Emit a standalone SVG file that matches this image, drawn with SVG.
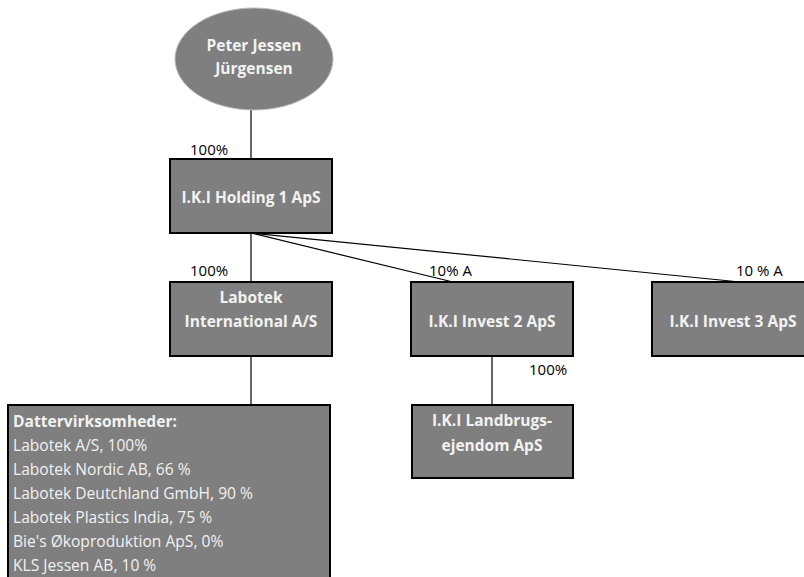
<svg xmlns="http://www.w3.org/2000/svg" width="804" height="577" viewBox="0 0 804 577">
<style>
.n{fill:#7f7f7f;stroke:#000;stroke-width:2}
.t{font-family:"Open Sans","Liberation Sans",sans-serif;font-size:15.5px;font-weight:bold;fill:#f2f2f2;text-anchor:middle}
.l{font-family:"Open Sans","Liberation Sans",sans-serif;font-size:15.6px;fill:#f2f2f2}
.p{font-family:"Open Sans","Liberation Sans",sans-serif;font-size:15px;fill:#000}
.c{stroke:#000;stroke-width:1.2;fill:none}
</style>
<rect width="804" height="577" fill="#fff"/>
<g id="connectors">
<line class="c" x1="251" y1="110" x2="251" y2="159"/>
<line class="c" x1="251" y1="233" x2="251" y2="282"/>
<line class="c" x1="251" y1="233" x2="453" y2="282"/>
<line class="c" x1="251" y1="233" x2="740" y2="282"/>
<line class="c" x1="251" y1="356" x2="251" y2="405"/>
<line class="c" x1="492" y1="356" x2="492" y2="405"/>
<text class="p" x="190" y="155">100%</text>
<text class="p" x="190" y="276">100%</text>
<text class="p" x="429" y="276">10% A</text>
<text class="p" x="736" y="276">10 % A</text>
<text class="p" x="529" y="375">100%</text>
</g>
<g id="peter">
<ellipse cx="254" cy="59" rx="79" ry="51" fill="#7f7f7f" stroke="#bbb" stroke-width="1"/>
<text class="t" x="254" y="51">Peter Jessen</text>
<text class="t" x="254" y="74">Jürgensen</text>
</g>
<g id="holding">
<rect class="n" x="170" y="159" width="162" height="74"/>
<text class="t" x="251" y="203">I.K.I Holding 1 ApS</text>
</g>
<g id="labotek">
<rect class="n" x="170" y="282" width="162" height="74"/>
<text class="t" x="251" y="303">Labotek</text>
<text class="t" x="251" y="327">International A/S</text>
</g>
<g id="invest2">
<rect class="n" x="411" y="282" width="162" height="74"/>
<text class="t" x="492" y="327">I.K.I Invest 2 ApS</text>
</g>
<g id="invest3">
<rect class="n" x="652" y="282" width="162" height="74"/>
<text class="t" x="733" y="327">I.K.I Invest 3 ApS</text>
</g>
<g id="landbrug">
<rect class="n" x="412" y="405" width="161" height="73"/>
<text class="t" x="492" y="426">I.K.I Landbrugs-</text>
<text class="t" x="492" y="451">ejendom ApS</text>
</g>
<g id="datter">
<rect class="n" x="8" y="405" width="322" height="180"/>
<text class="l" x="13" y="427" font-weight="bold">Dattervirksomheder:</text>
<text class="l" x="13" y="451">Labotek A/S, 100%</text>
<text class="l" x="13" y="475">Labotek Nordic AB, 66 %</text>
<text class="l" x="13" y="499">Labotek Deutchland GmbH, 90 %</text>
<text class="l" x="13" y="523">Labotek Plastics India, 75 %</text>
<text class="l" x="13" y="547">Bie's Økoproduktion ApS, 0%</text>
<text class="l" x="13" y="571">KLS Jessen AB, 10 %</text>
</g>
</svg>
